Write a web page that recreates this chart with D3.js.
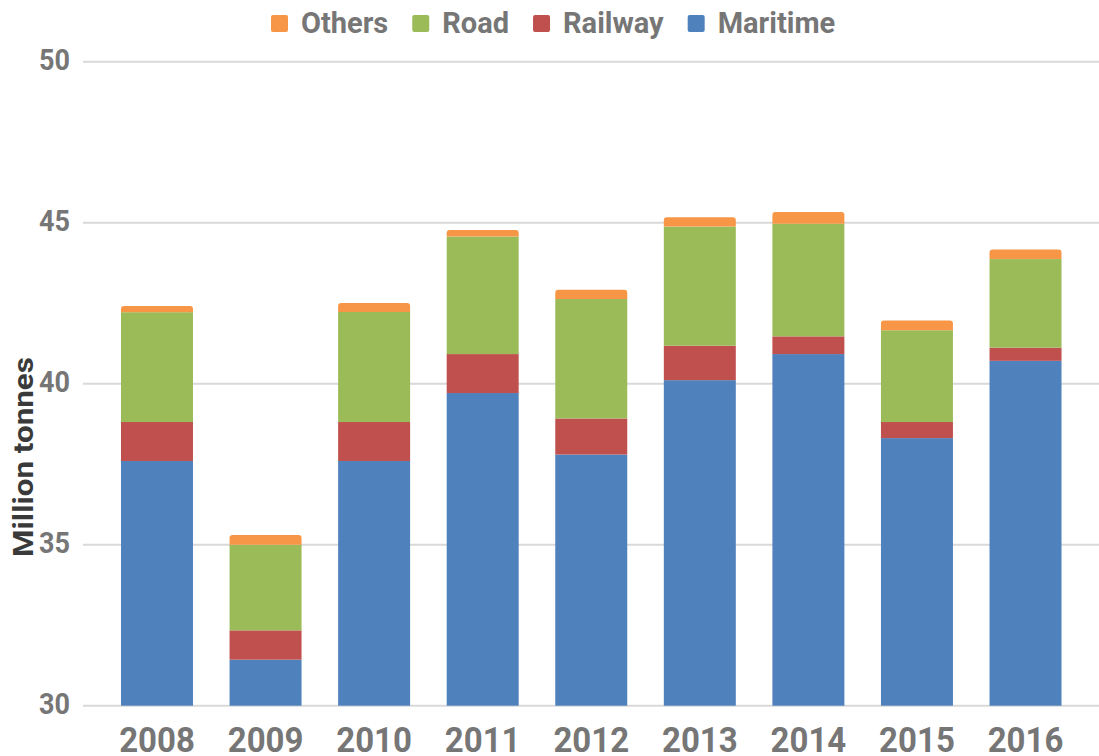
<!DOCTYPE html>
<html>
<head>
<meta charset="utf-8">
<script src="https://cdn.jsdelivr.net/npm/d3@7"></script>
<style>
html,body{margin:0;padding:0;background:#fff;}
svg{display:block;font-family:Roboto, "Noto Sans", sans-serif;}
</style>
</head>
<body>
<svg id="chart" width="1099" height="756"></svg>
<script>
const years = ["2008","2009","2010","2011","2012","2013","2014","2015","2016"];
const maritime = [37.6, 31.43, 37.6, 39.71, 37.8, 40.11, 40.92, 38.31, 40.71];
const railway  = [1.21, 0.91, 1.21, 1.21, 1.12, 1.07, 0.55, 0.50, 0.41];
const road     = [3.41, 2.66, 3.42, 3.65, 3.71, 3.70, 3.50, 2.85, 2.75];
const others   = [0.19, 0.30, 0.28, 0.20, 0.29, 0.29, 0.36, 0.30, 0.30];
const seriesNames = ["Maritime","Railway","Road","Others"];
const legendOrder = ["Others","Road","Railway","Maritime"];
const yTicks = [30, 35, 40, 45, 50];
const yTitle = "Million tonnes";

const colors = {Maritime:"#4f81bd", Railway:"#c0504d", Road:"#9bbb59", Others:"#f79646"};
const textGrey = "#767676";

const rows = years.map((y,i)=>({year:y, Maritime:maritime[i], Railway:railway[i], Road:road[i], Others:others[i]}));
const stack = d3.stack().keys(seriesNames)(rows);

const svg = d3.select("#chart");
const x = d3.scaleBand().domain(years).range([102.7, 1079.8]).paddingInner(0.337).paddingOuter(0.1685);
const y = d3.scaleLinear().domain([30,50]).range([705.7, 61.7]);

// gridlines
svg.append("g").selectAll("line").data(yTicks).join("line")
  .attr("x1", 83).attr("x2", 1099)
  .attr("y1", d=>y(d)).attr("y2", d=>y(d))
  .attr("stroke", "#d9d9d9").attr("stroke-width", 2);

// y tick labels
svg.append("g").selectAll("text").data(yTicks).join("text")
  .attr("transform", d=>`translate(70,${y(d)+8.6}) scale(1,1.1)`)
  .attr("text-anchor","end")
  .attr("font-size", 27).attr("font-weight", 700).attr("fill", textGrey)
  .text(d=>d);

// bars
const r = 3;
stack.forEach(layer=>{
  const key = layer.key;
  const g = svg.append("g").attr("fill", colors[key]);
  layer.forEach((d,i)=>{
    const v0 = Math.max(d[0], 30), v1 = d[1];
    const x0 = x(years[i]), w = x.bandwidth();
    const yt = y(v1), yb = y(v0);
    if (key === "Others") {
      g.append("path").attr("d",
        `M${x0},${yb} L${x0},${yt + r} Q${x0},${yt} ${x0 + r},${yt} L${x0 + w - r},${yt} Q${x0 + w},${yt} ${x0 + w},${yt + r} L${x0 + w},${yb} Z`);
    } else {
      g.append("rect").attr("x", x0).attr("y", yt).attr("width", w).attr("height", yb - yt);
    }
  });
});

// x labels
svg.append("g").selectAll("text").data(years).join("text")
  .attr("transform", d=>`translate(${x(d)+x.bandwidth()/2},751.5) scale(1,1.07)`)
  .attr("text-anchor","middle")
  .attr("font-size", 33).attr("font-weight", 700).attr("fill", textGrey)
  .text(d=>d);

// y title
svg.append("text")
  .attr("transform","translate(33,457) rotate(-90) scale(1.12,1)")
  .attr("text-anchor","middle")
  .attr("font-size", 28).attr("font-weight", 700).attr("fill", "#3a3a3a")
  .text(yTitle);

// legend
const lg = svg.append("g");
let lx = 271;
legendOrder.forEach(name=>{
  lg.append("rect").attr("x", lx).attr("y", 15).attr("width", 17).attr("height", 17).attr("rx", 2).attr("fill", colors[name]);
  const t = lg.append("text").attr("x", lx + 30).attr("y", 33)
    .attr("font-size", 29).attr("font-weight", 700).attr("fill", textGrey).text(name);
  lx = lx + 30 + t.node().getComputedTextLength() + 24;
});
</script>
</body>
</html>
